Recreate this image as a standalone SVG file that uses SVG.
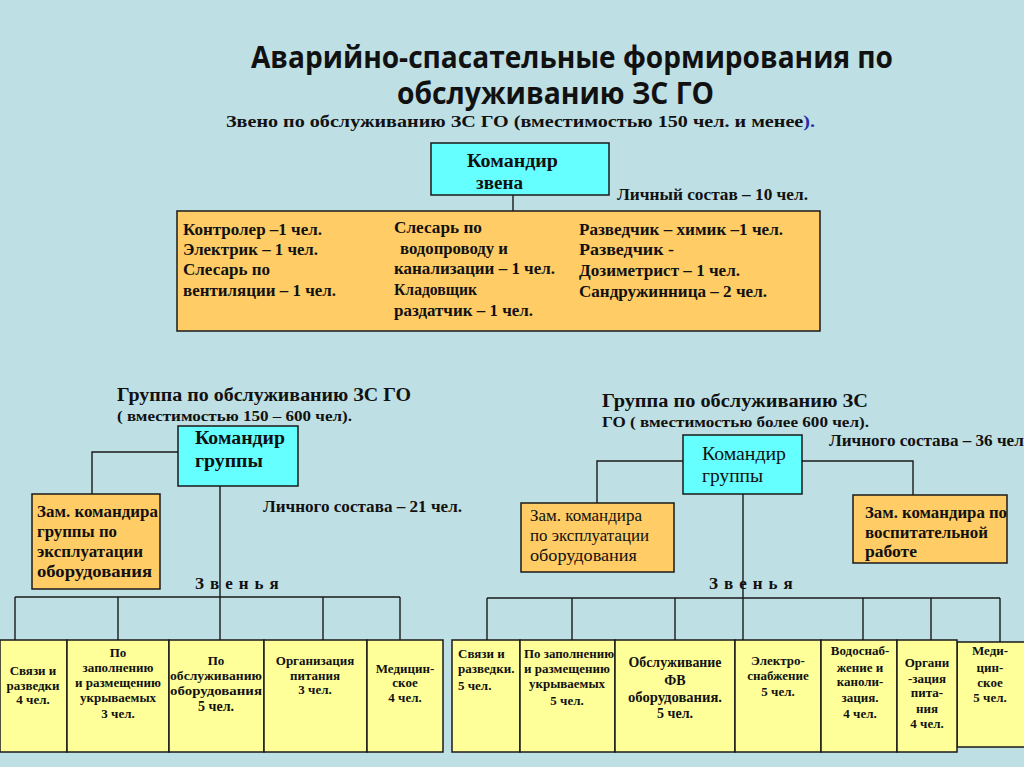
<svg xmlns="http://www.w3.org/2000/svg" width="1024" height="767" viewBox="0 0 1024 767">
<style>
.bg{fill:#BEDFE3}
.box{stroke:#1a1a1a;stroke-width:1.5}
.cyan{fill:#66FFFF}
.orange{fill:#FFCC66}
.yellow{fill:#FFFF99}
.ln{fill:none;stroke:#1a1a1a;stroke-width:1.4}
text{font-family:"Liberation Serif","Times New Roman",serif;font-weight:bold;fill:#111}
.title{font-family:"Open Sans","Noto Sans","Liberation Sans",sans-serif;font-size:30px;font-weight:bold}
.t15{font-size:15.5px}
.t16{font-size:16.5px}
.t17{font-size:17px}
.t18{font-size:18.5px}
.t13{font-size:14px}
.t12{font-size:13px}
.reg{font-weight:normal}
.c{text-anchor:middle}
.sp{letter-spacing:6px}
</style>
<rect class="bg" x="0" y="0" width="1024" height="767"/>

<g id="title">
<text class="title" x="251" y="68" textLength="642" lengthAdjust="spacingAndGlyphs">Аварийно-спасательные формирования по</text>
<text class="title" x="397" y="104" textLength="317" lengthAdjust="spacingAndGlyphs">обслуживанию ЗС ГО</text>
<text class="t17" x="226" y="127" textLength="589" lengthAdjust="spacingAndGlyphs">Звено по обслуживанию ЗС ГО  (вместимостью 150 чел. и менее<tspan fill="#2A2AA8">).</tspan></text>
</g>

<g id="connectors">
<path class="ln" d="M513 195V211"/>
<path class="ln" d="M178 452H92V494M220 486V640M15 597H400M15 597V640M118 597V640M323 597V640M400 597V640"/>
<path class="ln" d="M683 461H597V503M802 461H913V495M743 494V640M487 598H1000M487 598V640M572 598V640M675 598V640M863 598V640M931 598V640M1000 598V642"/>
</g>

<g id="commander-zveno">
<rect class="box cyan" x="431" y="143" width="178" height="52"/>
<text class="t18" x="467" y="167" textLength="91" lengthAdjust="spacingAndGlyphs">Командир</text>
<text class="t18" x="476" y="189" textLength="47" lengthAdjust="spacingAndGlyphs">звена</text>
</g>
<text class="t16" x="617" y="200" textLength="191" lengthAdjust="spacingAndGlyphs">Личный состав – 10 чел.</text>

<g id="zveno-staff">
<rect class="box orange" x="177" y="211" width="643" height="120"/>
<text class="t16" x="183" y="235" textLength="139" lengthAdjust="spacingAndGlyphs">Контролер –1 чел.</text>
<text class="t16" x="183" y="255" textLength="135" lengthAdjust="spacingAndGlyphs">Электрик – 1 чел.</text>
<text class="t16" x="183" y="275" textLength="87" lengthAdjust="spacingAndGlyphs">Слесарь по</text>
<text class="t16" x="183" y="296" textLength="153" lengthAdjust="spacingAndGlyphs">вентиляции – 1 чел.</text>
<text class="t16" x="394" y="233" textLength="88" lengthAdjust="spacingAndGlyphs">Слесарь по</text>
<text class="t16" x="400" y="254" textLength="108" lengthAdjust="spacingAndGlyphs">водопроводу и</text>
<text class="t16" x="394" y="274" textLength="161" lengthAdjust="spacingAndGlyphs">канализации – 1 чел.</text>
<text class="t16" x="394" y="295" textLength="83" lengthAdjust="spacingAndGlyphs">Кладовщик</text>
<text class="t16" x="394" y="316" textLength="139" lengthAdjust="spacingAndGlyphs">раздатчик – 1 чел.</text>
<text class="t16" x="579" y="235" textLength="204" lengthAdjust="spacingAndGlyphs">Разведчик – химик –1 чел.</text>
<text class="t16" x="579" y="255" textLength="95" lengthAdjust="spacingAndGlyphs">Разведчик -</text>
<text class="t16" x="579" y="276" textLength="161" lengthAdjust="spacingAndGlyphs">Дозиметрист – 1 чел.</text>
<text class="t16" x="579" y="297" textLength="188" lengthAdjust="spacingAndGlyphs">Сандружинница – 2 чел.</text>
</g>

<g id="left-group-title">
<text class="t18" x="117" y="401" textLength="294" lengthAdjust="spacingAndGlyphs">Группа по обслуживанию ЗС ГО</text>
<text class="t15" x="117" y="421" textLength="235" lengthAdjust="spacingAndGlyphs">( вместимостью 150 – 600 чел).</text>
</g>
<g id="left-commander">
<rect class="box cyan" x="178" y="426" width="120" height="60"/>
<text class="t18" x="195" y="444" textLength="90" lengthAdjust="spacingAndGlyphs">Командир</text>
<text class="t18" x="195" y="467" textLength="68" lengthAdjust="spacingAndGlyphs">группы</text>
</g>
<g id="left-deputy">
<rect class="box orange" x="32" y="494" width="128" height="95"/>
<text class="t16" x="37" y="517" textLength="121" lengthAdjust="spacingAndGlyphs">Зам. командира</text>
<text class="t16" x="37" y="537" textLength="80" lengthAdjust="spacingAndGlyphs">группы по</text>
<text class="t16" x="37" y="557" textLength="106" lengthAdjust="spacingAndGlyphs">эксплуатации</text>
<text class="t16" x="37" y="577" textLength="115" lengthAdjust="spacingAndGlyphs">оборудования</text>
</g>
<text class="t16" x="263" y="512" textLength="199" lengthAdjust="spacingAndGlyphs">Личного состава – 21 чел.</text>
<text class="t17 sp" x="195" y="589">Звенья</text>

<g id="left-unit-1">
<rect class="box yellow" x="0" y="640" width="67" height="112"/>
<text class="t12 c" x="33" y="675">Связи и</text>
<text class="t12 c" x="33" y="690">разведки</text>
<text class="t12 c" x="33" y="704">4 чел.</text>
</g>
<g id="left-unit-2">
<rect class="box yellow" x="67" y="640" width="102" height="112"/>
<text class="t12 c" x="118" y="657">По</text>
<text class="t12 c" x="118" y="672">заполнению</text>
<text class="t12 c" x="118" y="687">и размещению</text>
<text class="t12 c" x="118" y="702">укрываемых</text>
<text class="t12 c" x="118" y="718">3 чел.</text>
</g>
<g id="left-unit-3">
<rect class="box yellow" x="169" y="640" width="95" height="112"/>
<text class="t12 c" x="216" y="665">По</text>
<text class="t12 c" x="216" y="680" textLength="92" lengthAdjust="spacingAndGlyphs">обслуживанию</text>
<text class="t12 c" x="216" y="695" textLength="92" lengthAdjust="spacingAndGlyphs">оборудования</text>
<text class="t13 c" x="216" y="711">5 чел.</text>
</g>
<g id="left-unit-4">
<rect class="box yellow" x="264" y="640" width="103" height="112"/>
<text class="t12 c" x="315" y="665">Организация</text>
<text class="t12 c" x="315" y="680">питания</text>
<text class="t12 c" x="315" y="694">3 чел.</text>
</g>
<g id="left-unit-5">
<rect class="box yellow" x="367" y="640" width="76" height="112"/>
<text class="t12 c" x="405" y="673">Медицин-</text>
<text class="t12 c" x="405" y="687">ское</text>
<text class="t12 c" x="405" y="702">4 чел.</text>
</g>

<g id="right-group-title">
<text class="t18" x="602" y="407" textLength="266" lengthAdjust="spacingAndGlyphs">Группа по обслуживанию  ЗС</text>
<text class="t15" x="602" y="427" textLength="267" lengthAdjust="spacingAndGlyphs">ГО ( вместимостью более 600 чел).</text>
</g>
<text class="t16" x="829" y="446" textLength="199" lengthAdjust="spacingAndGlyphs">Личного состава – 36 чел.</text>
<g id="right-commander">
<rect class="box cyan" x="683" y="435" width="119" height="59"/>
<text class="t18 reg" x="702" y="460" textLength="84" lengthAdjust="spacingAndGlyphs">Командир</text>
<text class="t18 reg" x="702" y="482" textLength="61" lengthAdjust="spacingAndGlyphs">группы</text>
</g>
<g id="right-deputy-1">
<rect class="box orange" x="521" y="503" width="153" height="69"/>
<text class="t16 reg" x="530" y="521" textLength="112" lengthAdjust="spacingAndGlyphs">Зам. командира</text>
<text class="t16 reg" x="530" y="541" textLength="119" lengthAdjust="spacingAndGlyphs">по эксплуатации</text>
<text class="t16 reg" x="530" y="561" textLength="107" lengthAdjust="spacingAndGlyphs">оборудования</text>
</g>
<g id="right-deputy-2">
<rect class="box orange" x="853" y="495" width="154" height="68"/>
<text class="t16" x="865" y="518" textLength="142" lengthAdjust="spacingAndGlyphs">Зам. командира по</text>
<text class="t16" x="865" y="538" textLength="123" lengthAdjust="spacingAndGlyphs">воспитательной</text>
<text class="t16" x="865" y="557" textLength="52" lengthAdjust="spacingAndGlyphs">работе</text>
</g>
<text class="t17 sp" x="709" y="589">Звенья</text>

<g id="right-unit-1">
<rect class="box yellow" x="452" y="640" width="68" height="112"/>
<text class="t12" x="458" y="658">Связи и</text>
<text class="t12" x="458" y="673">разведки.</text>
<text class="t12" x="458" y="690">5 чел.</text>
</g>
<g id="right-unit-2">
<rect class="box yellow" x="520" y="640" width="95" height="112"/>
<text class="t12 c" x="569" y="658" textLength="90" lengthAdjust="spacingAndGlyphs">По заполнению</text>
<text class="t12 c" x="567" y="673">и размещению</text>
<text class="t12 c" x="567" y="688">укрываемых</text>
<text class="t12 c" x="567" y="705">5 чел.</text>
</g>
<g id="right-unit-3">
<rect class="box yellow" x="615" y="640" width="120" height="112"/>
<text class="t13 c" x="675" y="667" textLength="93" lengthAdjust="spacingAndGlyphs">Обслуживание</text>
<text class="t13 c" x="675" y="685">ФВ</text>
<text class="t13 c" x="675" y="702" textLength="94" lengthAdjust="spacingAndGlyphs">оборудования.</text>
<text class="t13 c" x="675" y="718">5 чел.</text>
</g>
<g id="right-unit-4">
<rect class="box yellow" x="735" y="640" width="86" height="112"/>
<text class="t12 c" x="778" y="665">Электро-</text>
<text class="t12 c" x="778" y="680">снабжение</text>
<text class="t12 c" x="778" y="696">5 чел.</text>
</g>
<g id="right-unit-5">
<rect class="box yellow" x="821" y="640" width="76" height="112"/>
<text class="t12 c" x="860" y="655">Водоснаб-</text>
<text class="t12 c" x="860" y="672">жение и</text>
<text class="t12 c" x="860" y="686">каноли-</text>
<text class="t12 c" x="860" y="702">зация.</text>
<text class="t12 c" x="860" y="718">4 чел.</text>
</g>
<g id="right-unit-7">
<rect class="box yellow" x="957" y="642" width="72" height="105"/>
<text class="t12 c" x="990" y="655">Меди-</text>
<text class="t12 c" x="990" y="672">цин-</text>
<text class="t12 c" x="990" y="687">ское</text>
<text class="t12 c" x="990" y="702">5 чел.</text>
</g>
<g id="right-unit-6">
<rect class="box yellow" x="897" y="640" width="60" height="112"/>
<text class="t12 c" x="927" y="667">Органи</text>
<text class="t12 c" x="927" y="683">-зация</text>
<text class="t12 c" x="927" y="697">пита-</text>
<text class="t12 c" x="927" y="713">ния</text>
<text class="t12 c" x="927" y="728">4 чел.</text>
</g>
</svg>
